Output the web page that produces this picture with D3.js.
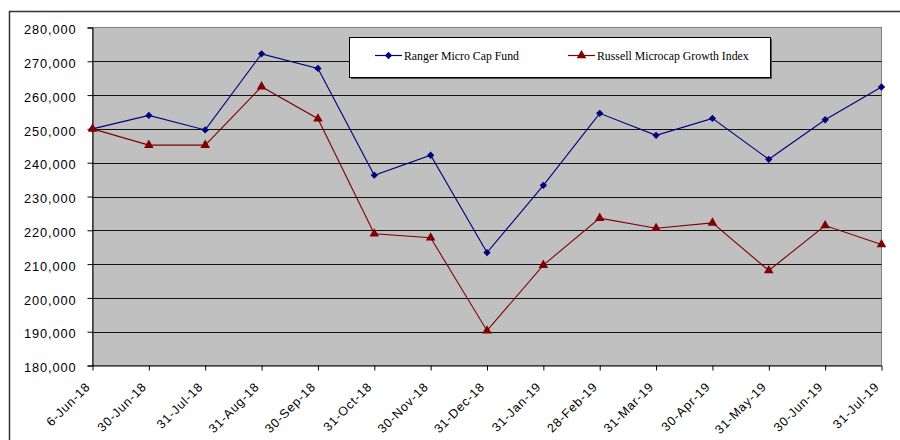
<!DOCTYPE html>
<html><head><meta charset="utf-8">
<script src="https://cdn.jsdelivr.net/npm/d3@7"></script>
<style>body{margin:0;background:#fff}svg{display:block}</style>
</head><body><svg id="c" width="900" height="440"></svg>
<script>
const categories = ["6-Jun-18","30-Jun-18","31-Jul-18","31-Aug-18","30-Sep-18","31-Oct-18","30-Nov-18","31-Dec-18","31-Jan-19","28-Feb-19","31-Mar-19","30-Apr-19","31-May-19","30-Jun-19","31-Jul-19"];
const ranger = [250000,254000,249700,272200,267900,236300,242200,213400,233300,254600,248100,253100,241000,252700,262400];
const russell = [250000,245200,245200,262500,253000,219000,217800,190300,209700,223600,220600,222200,208100,221400,215800];
const yTicks = [180000,190000,200000,210000,220000,230000,240000,250000,260000,270000,280000];
const seriesNames = ["Ranger Micro Cap Fund","Russell Microcap Growth Index"];

const svg = d3.select("#c");
const L=92.5, R=881.5, T=27.5, B=365.5;
const x = d3.scalePoint().domain(categories).range([L,R]);
const y = d3.scaleLinear().domain([180000,280000]).range([B,T]);

// outer border
svg.append("path").attr("d","M9.5,445V11.5H905").attr("fill","none").attr("stroke","#333").attr("stroke-width",1.5);

// plot area
svg.append("rect").attr("x",L).attr("y",T).attr("width",R-L).attr("height",B-T).attr("fill","#c0c0c0").attr("stroke","#808080").attr("stroke-width",1);

// gridlines
svg.append("g").selectAll("line").data(yTicks.filter(d=>d>180000&&d<280000)).join("line")
  .attr("x1",L).attr("x2",R).attr("y1",d=>Math.round(y(d))+0.5).attr("y2",d=>Math.round(y(d))+0.5)
  .attr("stroke","#111").attr("stroke-width",1);

const axisFont = "'Liberation Sans', Arial, sans-serif";
// y axis
const ya = svg.append("g").attr("transform",`translate(${L},0)`)
  .call(d3.axisLeft(y).tickValues(yTicks).tickSize(5).tickPadding(11).tickFormat(d3.format(",")));
ya.select(".domain").attr("stroke","#000");
ya.selectAll("line").attr("stroke","#000");
ya.selectAll("text").attr("font-family",axisFont).attr("font-size",12.8).attr("letter-spacing","0.9px").attr("fill","#000")
  .attr("dy","0.32em").attr("y",2);

// x axis
const xa = svg.append("g").attr("transform",`translate(0,${B})`)
  .call(d3.axisBottom(x).tickSize(5).tickSizeOuter(0));
xa.select(".domain").attr("stroke","#000").attr("d",`M${L},0.5H${R}`);
xa.selectAll("line").attr("stroke","#000");
xa.selectAll("text").attr("font-family",axisFont).attr("font-size",12.5).attr("letter-spacing","0.8px").attr("fill","#000")
  .attr("text-anchor","end").attr("transform","translate(-2,22) rotate(-45)").attr("dy","0").attr("y",0).attr("x",0);

const line = d3.line().x((d,i)=>x(categories[i])).y(d=>y(d));
const blue="#000080", red="#800000";
svg.append("path").datum(ranger).attr("d",line).attr("fill","none").attr("stroke",blue).attr("stroke-width",1.1);
svg.append("path").datum(russell).attr("d",line).attr("fill","none").attr("stroke",red).attr("stroke-width",1.1);

const diamond = d3.symbol().type(d3.symbolDiamond2).size(34);
const tri = d3.symbol().type(d3.symbolTriangle).size(40);
svg.append("g").selectAll("path").data(ranger).join("path")
  .attr("d",diamond).attr("transform",(d,i)=>`translate(${x(categories[i])},${y(d)})`).attr("fill",blue);
svg.append("g").selectAll("path").data(russell).join("path")
  .attr("d",tri).attr("transform",(d,i)=>`translate(${x(categories[i])},${y(d)})`).attr("fill",red);

// legend
const lg = svg.append("g");
lg.append("rect").attr("x",351).attr("y",39).attr("width",421).attr("height",40).attr("fill","#555");
lg.append("rect").attr("x",349.5).attr("y",37.5).attr("width",421).attr("height",40).attr("fill","#fff").attr("stroke","#000").attr("stroke-width",1);
const items=[{name:seriesNames[0],c:blue,sym:diamond,x0:375},{name:seriesNames[1],c:red,sym:tri,x0:568}];
items.forEach(it=>{
  lg.append("line").attr("x1",it.x0).attr("x2",it.x0+27).attr("y1",55.5).attr("y2",55.5).attr("stroke",it.c).attr("stroke-width",1.2);
  lg.append("path").attr("d",it.sym).attr("transform",`translate(${it.x0+13.5},55.5)`).attr("fill",it.c);
  lg.append("text").attr("x",it.x0+29).attr("y",59.5).text(it.name)
    .attr("font-family","'Liberation Serif', 'Times New Roman', serif").attr("font-size",11.8).attr("fill","#000");
});
</script></body></html>
